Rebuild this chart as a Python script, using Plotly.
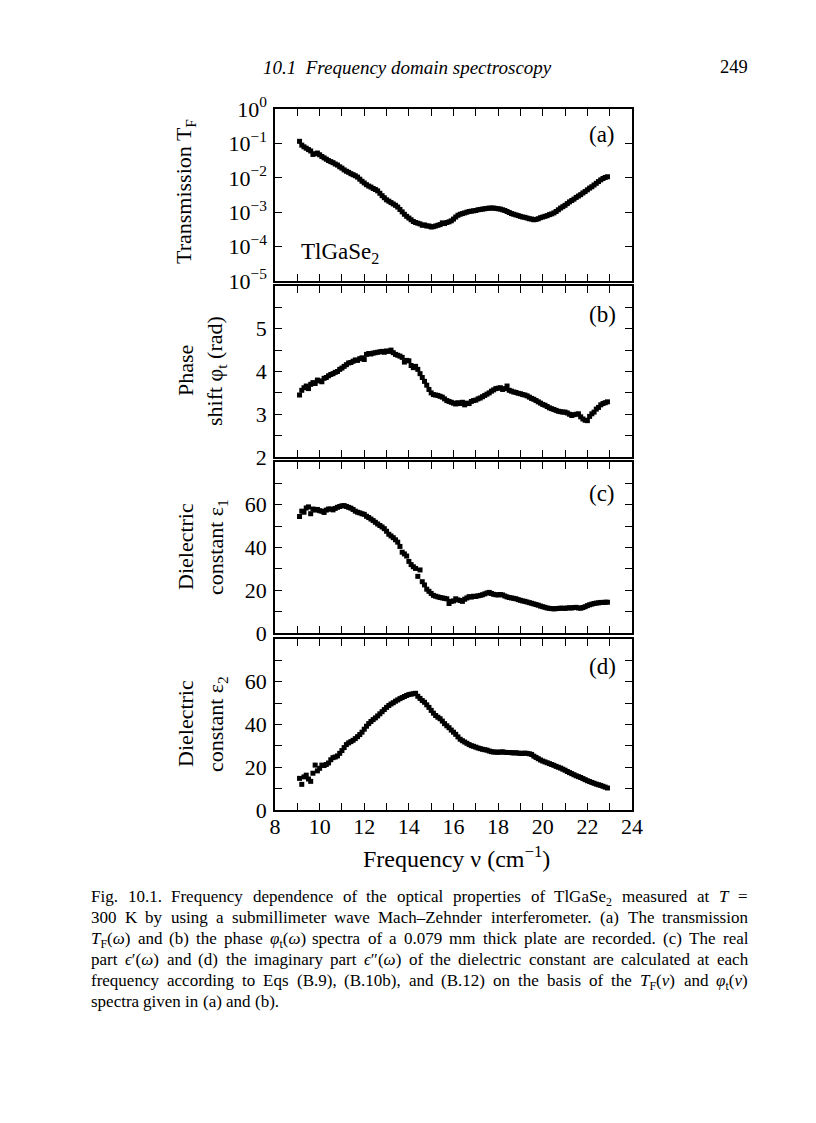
import re
import plotly.graph_objects as go

# ---------------- data ----------------
FREQ = [
    9.1, 9.2, 9.3, 9.4, 9.5, 9.6, 9.7, 9.8, 9.9,
    10.0, 10.1, 10.2, 10.3, 10.4, 10.5, 10.6, 10.7, 10.8, 10.9,
    11.0, 11.1, 11.2, 11.3, 11.4, 11.5, 11.6, 11.7, 11.8, 11.9,
    12.0, 12.1, 12.2, 12.3, 12.4, 12.5, 12.6, 12.7, 12.8, 12.9,
    13.0, 13.1, 13.2, 13.3, 13.4, 13.5, 13.6, 13.7, 13.8, 13.9,
    14.0, 14.1, 14.2, 14.3, 14.4, 14.5, 14.6, 14.7, 14.8, 14.9,
    15.0, 15.1, 15.2, 15.3, 15.4, 15.5, 15.6, 15.7, 15.8, 15.9,
    16.0, 16.1, 16.2, 16.3, 16.4, 16.5, 16.6, 16.7, 16.8, 16.9,
    17.0, 17.1, 17.2, 17.3, 17.4, 17.5, 17.6, 17.7, 17.8, 17.9,
    18.0, 18.1, 18.2, 18.3, 18.4, 18.5, 18.6, 18.7, 18.8, 18.9,
    19.0, 19.1, 19.2, 19.3, 19.4, 19.5, 19.6, 19.7, 19.8, 19.9,
    20.0, 20.1, 20.2, 20.3, 20.4, 20.5, 20.6, 20.7, 20.8, 20.9,
    21.0, 21.1, 21.2, 21.3, 21.4, 21.5, 21.6, 21.7, 21.8, 21.9,
    22.0, 22.1, 22.2, 22.3, 22.4, 22.5, 22.6, 22.7, 22.8, 22.9,
]

# (a) transmission T_F, stored as log10 of the value
TF_LOG10 = [
    -0.94, -1.05, -1.10, -1.14, -1.18, -1.22, -1.32, -1.30, -1.28,
    -1.33, -1.38, -1.42, -1.46, -1.50, -1.53, -1.56, -1.60, -1.63, -1.68,
    -1.72, -1.77, -1.81, -1.84, -1.88, -1.91, -1.94, -1.98, -2.04, -2.10,
    -2.15, -2.20, -2.24, -2.27, -2.31, -2.34, -2.38, -2.45, -2.52, -2.58,
    -2.64, -2.68, -2.72, -2.76, -2.80, -2.85, -2.92, -2.99, -3.06, -3.12,
    -3.17, -3.22, -3.27, -3.30, -3.32, -3.34, -3.38, -3.37, -3.40, -3.40,
    -3.43, -3.42, -3.40, -3.38, -3.36, -3.31, -3.33, -3.30, -3.28, -3.25,
    -3.20, -3.14, -3.09, -3.06, -3.04, -3.02, -3.00, -2.98, -2.97, -2.96,
    -2.95, -2.93, -2.92, -2.91, -2.90, -2.89, -2.88, -2.88, -2.88, -2.89,
    -2.90, -2.91, -2.93, -2.95, -2.98, -3.01, -3.04, -3.06, -3.08, -3.10,
    -3.12, -3.14, -3.15, -3.17, -3.19, -3.20, -3.22, -3.21, -3.19, -3.16,
    -3.14, -3.12, -3.10, -3.07, -3.05, -3.02, -2.98, -2.93, -2.88, -2.84,
    -2.80, -2.75, -2.70, -2.66, -2.62, -2.57, -2.53, -2.49, -2.44, -2.40,
    -2.35, -2.30, -2.26, -2.21, -2.16, -2.11, -2.06, -2.02, -1.99, -1.97,
]

# (b) phase shift phi_t (rad)
PHASE = [
    3.45, 3.56, 3.62, 3.66, 3.60, 3.70, 3.74, 3.72, 3.80,
    3.78, 3.76, 3.84, 3.86, 3.90, 3.93, 3.95, 3.98, 4.00, 4.05,
    4.08, 4.12, 4.16, 4.20, 4.21, 4.24, 4.27, 4.26, 4.30, 4.32,
    4.28, 4.40, 4.42, 4.41, 4.43, 4.44, 4.45, 4.46, 4.47, 4.45,
    4.48, 4.47, 4.50, 4.44, 4.40, 4.38, 4.36, 4.33, 4.22, 4.26,
    4.25, 4.14, 4.09, 4.12, 4.05, 3.95, 3.86, 3.77, 3.68, 3.58,
    3.50, 3.46, 3.45, 3.44, 3.42, 3.40, 3.36, 3.32, 3.30, 3.28,
    3.26, 3.24, 3.27, 3.25, 3.28, 3.22, 3.26, 3.25, 3.30, 3.32,
    3.33, 3.36, 3.38, 3.41, 3.44, 3.47, 3.50, 3.54, 3.57, 3.60,
    3.61, 3.62, 3.58, 3.60, 3.66, 3.56, 3.54, 3.52, 3.51, 3.49,
    3.48, 3.46, 3.45, 3.43, 3.40, 3.37, 3.35, 3.32, 3.29, 3.26,
    3.23, 3.21, 3.18, 3.15, 3.13, 3.11, 3.09, 3.07, 3.06, 3.05,
    3.05, 3.03, 3.00, 2.97, 2.99, 3.00, 3.01, 2.94, 2.89, 2.86,
    2.85, 2.95, 3.01, 3.05, 3.12, 3.16, 3.22, 3.25, 3.27, 3.29,
]

# (c) dielectric constant eps_1
EPS1 = [
    54.5, 57.0, 56.5, 58.5, 59.0, 55.8, 58.0, 57.5, 57.8,
    57.2, 57.0, 56.4, 57.5, 58.0, 58.0, 57.6, 58.3, 58.8, 59.2,
    59.5, 59.6, 59.2, 58.8, 58.4, 57.8, 57.0, 56.5, 56.2, 55.8,
    55.5, 54.6, 54.0, 53.3, 52.6, 51.8, 51.0, 50.3, 49.6, 48.8,
    47.6, 46.2, 45.4, 44.6, 43.6, 42.5, 40.5, 37.8, 37.0, 36.0,
    33.5, 32.0, 31.0, 30.2, 26.5, 29.5, 24.0, 22.5, 20.5, 19.5,
    18.5, 17.6, 17.2, 16.9, 16.6, 16.4, 16.2, 16.0, 13.8, 14.8,
    15.0, 16.0, 15.5, 15.2, 14.8, 15.8, 16.4, 17.0, 16.8, 17.2,
    17.1, 17.4, 17.6, 17.9, 18.3, 18.7, 19.0, 18.5, 18.1, 17.9,
    17.8, 18.0, 17.8, 17.3, 16.9, 16.6, 16.4, 16.2, 16.0, 15.6,
    15.3, 15.0, 14.8, 14.5, 14.2, 13.9, 13.6, 13.3, 13.0, 12.6,
    12.3, 12.0, 11.7, 11.5, 11.4, 11.3, 11.4, 11.5, 11.6, 11.6,
    11.5, 11.7, 11.8, 11.7, 11.9, 12.0, 11.7, 11.6, 11.9, 12.3,
    12.8, 13.2, 13.5, 13.8, 14.0, 14.1, 14.3, 14.3, 14.4, 14.4,
]

# (d) dielectric constant eps_2
EPS2 = [
    14.8, 12.0, 15.5, 16.3, 14.5, 13.4, 17.2, 21.0, 18.3,
    19.5, 21.0, 20.8, 21.3, 22.0, 23.5, 24.5, 24.8, 25.3, 26.5,
    27.8, 29.2, 30.6, 31.4, 32.0, 32.6, 33.4, 34.3, 35.3, 36.4,
    37.8, 39.2, 40.4, 41.4, 42.3, 43.1, 44.0, 45.0, 46.0, 47.0,
    48.0, 48.9, 49.6, 50.2, 50.9, 51.5, 52.1, 52.6, 53.1, 53.6,
    54.0, 54.2, 54.4, 54.6, 53.2, 52.2, 51.2, 50.4, 49.2, 48.0,
    46.6, 45.3, 44.2, 43.4, 42.7, 41.6, 40.4, 39.4, 38.5, 37.4,
    36.4, 35.4, 34.2, 33.1, 32.4, 31.8, 31.2, 30.6, 30.1, 29.8,
    29.4, 29.0, 28.7, 28.4, 28.2, 28.0, 27.6, 27.3, 27.1, 27.1,
    27.0, 27.1, 27.2, 27.0, 26.9, 26.9, 26.8, 26.7, 26.8, 26.6,
    26.5, 26.5, 26.6, 26.5, 26.3, 26.0, 25.2, 24.6, 24.0, 23.4,
    22.9, 22.5, 22.1, 21.7, 21.3, 20.9, 20.4, 20.0, 19.6, 19.1,
    18.6, 18.0, 17.5, 17.0, 16.5, 16.0, 15.6, 15.2, 14.7, 14.2,
    13.7, 13.3, 12.9, 12.5, 12.1, 11.8, 11.5, 11.1, 10.7, 10.3,
]

X_TICKS = [8, 9, 10, 11, 12, 13, 14, 15, 16, 17, 18, 19, 20, 21, 22, 23, 24]
X_TICK_TEXT = ["8", "", "10", "", "12", "", "14", "", "16", "", "18", "", "20", "", "22", "", "24"]

TF_TICKS = [1e-5, 1e-4, 1e-3, 1e-2, 1e-1, 1e0]
TF_TICK_TEXT = ["10<sup>−5</sup>", "10<sup>−4</sup>", "10<sup>−3</sup>",
                "10<sup>−2</sup>", "10<sup>−1</sup>", "10<sup>0</sup>"]

PHASE_TICKS = [2, 2.5, 3, 3.5, 4, 4.5, 5, 5.5, 6]
PHASE_TICK_TEXT = ["2", "", "3", "", "4", "", "5", "", ""]

EPS_TICKS = [0, 10, 20, 30, 40, 50, 60, 70, 80]
EPS_TICK_TEXT = ["0", "", "20", "", "40", "", "60", "", ""]

CAPTION = [
    "Fig. 10.1. Frequency dependence of the optical properties of TlGaSe<sub>2</sub> measured at <i>T</i> =",
    "300 K by using a submillimeter wave Mach–Zehnder interferometer. (a) The transmission",
    "<i>T</i><sub>F</sub>(<i>ω</i>) and (b) the phase <i>φ</i><sub>t</sub>(<i>ω</i>) spectra of a 0.079 mm thick plate are recorded. (c) The real",
    "part <i>ϵ</i>′(<i>ω</i>) and (d) the imaginary part <i>ϵ</i>″(<i>ω</i>) of the dielectric constant are calculated at each",
    "frequency according to Eqs (B.9), (B.10b), and (B.12) on the basis of the <i>T</i><sub>F</sub>(<i>ν</i>) and <i>φ</i><sub>t</sub>(<i>ν</i>)",
    "spectra given in (a) and (b).",
]

# ---------------- figure ----------------
W, H = 816, 1123
OFF = 8  # page body margin of the browser
FONT = "Liberation Serif"

def px(x):
    return (x - OFF) / W

def py(y):
    return 1 - (y - OFF) / H

TF = [10 ** e for e in TF_LOG10]

fig = go.Figure()
marker = dict(symbol="square", size=5, color="black", line=dict(width=0))
fig.add_trace(go.Scatter(x=FREQ, y=TF, mode="markers", marker=marker, xaxis="x", yaxis="y"))
fig.add_trace(go.Scatter(x=FREQ, y=PHASE, mode="markers", marker=marker, xaxis="x2", yaxis="y2"))
fig.add_trace(go.Scatter(x=FREQ, y=EPS1, mode="markers", marker=marker, xaxis="x3", yaxis="y3"))
fig.add_trace(go.Scatter(x=FREQ, y=EPS2, mode="markers", marker=marker, xaxis="x4", yaxis="y4"))

x_dom = [px(275), px(632)]
panels = [(109, 281), (286, 457), (462, 633), (639, 810)]

common = dict(showline=True, linecolor="black", linewidth=1.5, mirror="allticks",
              ticks="inside", ticklen=7, tickwidth=1.2, tickcolor="black",
              showgrid=False, zeroline=False, automargin=False,
              tickfont=dict(family=FONT, size=22, color="black"))

layout = dict(width=W, height=H, margin=dict(l=0, r=0, t=0, b=0, pad=0, autoexpand=False),
              paper_bgcolor="white", plot_bgcolor="white", showlegend=False,
              template="none",
              font=dict(family=FONT, color="black"))

names = ["", "2", "3", "4"]
for i, (top, bot) in enumerate(panels):
    n = names[i]
    layout["xaxis" + n] = dict(common, domain=x_dom, range=[8, 24], tickvals=X_TICKS,
                               ticktext=X_TICK_TEXT, anchor="y" + n,
                               showticklabels=(i == 3), ticklabelstandoff=-4)
    ydom = [py(bot), py(top)]
    if i == 0:
        layout["yaxis" + n] = dict(common, domain=ydom, type="log", range=[-5, 0],
                                   tickvals=TF_TICKS, ticktext=TF_TICK_TEXT, anchor="x" + n,
                                   ticklabelstandoff=2)
    elif i == 1:
        layout["yaxis" + n] = dict(common, domain=ydom, range=[2, 6],
                                   tickvals=PHASE_TICKS, ticktext=PHASE_TICK_TEXT, anchor="x" + n,
                                   ticklabelstandoff=2)
    else:
        layout["yaxis" + n] = dict(common, domain=ydom, range=[0, 80],
                                   tickvals=EPS_TICKS, ticktext=EPS_TICK_TEXT, anchor="x" + n,
                                   ticklabelstandoff=2)

fig.update_layout(**layout)

ann = []
def text(x, y, s, size, anchor="center", angle=0, yanchor="middle"):
    ann.append(dict(x=px(x), y=py(y), xref="paper", yref="paper", text=s, showarrow=False,
                    xanchor=anchor, yanchor=yanchor, textangle=angle, borderpad=0,
                    font=dict(family=FONT, size=size, color="black")))

# header
text(262, 67, "<i>10.1  Frequency domain spectroscopy</i>", 19, anchor="left")
text(749, 67, "249", 18.5, anchor="right")

# y-axis titles
TS = 22
text(185, 192, "Transmission T<sub>F</sub>", TS, angle=-90)
text(185, 371, "Phase", TS, angle=-90)
text(216, 371, "shift φ<sub>t</sub> (rad)", TS, angle=-90)
text(185, 547, "Dielectric", TS, angle=-90)
text(217, 547, "constant ε<sub>1</sub>", TS, angle=-90)
text(185, 724, "Dielectric", TS, angle=-90)
text(217, 724, "constant ε<sub>2</sub>", TS, angle=-90)

# x-axis title
text(456, 857, "Frequency ν (cm<sup>−1</sup>)", 24)

# panel labels
text(602, 134, "(a)", 23)
text(602, 314, "(b)", 23)
text(602, 493, "(c)", 23)
text(602, 666, "(d)", 23)
text(300, 253, "TlGaSe<sub>2</sub>", 23, anchor="left")

# ---- caption, justified word by word (Times metrics, 1/1000 em) ----
CW = {" ": 250, "(": 333, ")": 333, ",": 250, ".": 250, "=": 564, "–": 500,
      "′": 275, "″": 450, "ω": 667, "φ": 520, "ϵ": 420, "ν": 480,
      "A": 722, "B": 667, "E": 611, "F": 556, "G": 722, "K": 722, "M": 889,
      "S": 556, "T": 600, "Z": 611,
      "a": 444, "b": 500, "c": 444, "d": 500, "e": 444, "f": 333, "g": 500,
      "h": 500, "i": 278, "j": 278, "k": 500, "l": 278, "m": 778, "n": 500,
      "o": 500, "p": 500, "q": 500, "r": 333, "s": 389, "t": 278, "u": 500,
      "v": 500, "w": 722, "x": 500, "y": 500, "z": 444}

def word_width(word, size):
    scale, total = 1.0, 0.0
    for tok in re.split(r"(<[^>]+>)", word):
        if tok.startswith("<"):
            if tok in ("<sub>", "<sup>"):
                scale = 0.7
            elif tok in ("</sub>", "</sup>"):
                scale = 1.0
            continue
        for ch in tok:
            total += CW.get(ch, 500) * scale
    return total / 1000.0 * size

CAP_SIZE = 17
CAP_LEFT, CAP_RIGHT = 90, 747
cap_y = [896, 917, 938, 959, 980, 1001]
for li, (line, y) in enumerate(zip(CAPTION, cap_y)):
    words = line.split(" ")
    widths = [word_width(w, CAP_SIZE) for w in words]
    natural_gap = 0.25 * CAP_SIZE
    if li < len(CAPTION) - 1 and len(words) > 1:
        gap = (CAP_RIGHT - CAP_LEFT - sum(widths)) / (len(words) - 1)
    else:
        gap = natural_gap
    x = CAP_LEFT
    for w, wd in zip(words, widths):
        # anchor at the top so words with subscripts share the same baseline
        text(x, y - 10, w, CAP_SIZE, anchor="left", yanchor="top")
        x += wd + gap

fig.update_layout(annotations=ann)
fig.write_html("out.html")
